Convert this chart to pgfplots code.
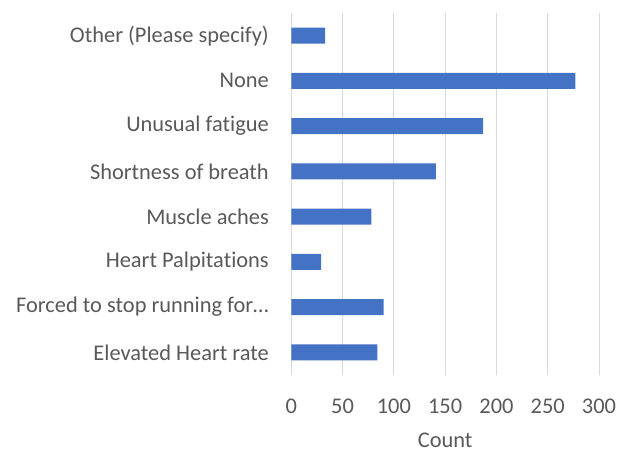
\documentclass[border=0pt]{standalone}
\usepackage{pgfplots}
\pgfplotsset{compat=1.18}
\usepackage{fontspec}
\setmainfont[Ligatures=NoCommon]{Carlito}
\definecolor{barblue}{HTML}{4472C4}
\definecolor{txt}{HTML}{595959}
\definecolor{gridc}{HTML}{D9D9D9}
\begin{document}
\begin{tikzpicture}
\begin{axis}[
  scale only axis,
  width=307.7bp, height=362bp,
  xbar, bar width=16bp,
  xmin=0, xmax=300,
  ymin=-0.5, ymax=7.5,
  xtick={0,50,100,150,200,250,300},
  ytick={0,1,2,3,4,5,6,7},
  yticklabels={{Elevated Heart rate},{Forced to stop running for\ldots},{Heart Palpitations},{Muscle aches},{Shortness of breath},{Unusual fatigue},{None},{Other (Please specify)}},
  axis line style={draw=none},
  xmajorgrids, grid style={gridc, line width=1bp},
  major tick length=0pt,
  tick label style={font=\fontsize{22.5}{26}\selectfont, text=txt},
  /pgf/number format/assume math mode=true,
  yticklabel style={xshift=-19bp},
  xticklabel style={yshift=-20bp},
  xlabel={Count},
  xlabel style={font=\fontsize{22.5}{26}\selectfont, text=txt, yshift=-15bp, inner sep=1bp},
]
\addplot[fill=barblue, draw=none] coordinates {
(84,0) (90,1) (29,2) (78,3) (141,4) (187,5) (277,6) (33,7)};
\end{axis}
\pgfresetboundingbox
\useasboundingbox (-291.3bp,-80bp) rectangle (326.7bp,375bp);
\end{tikzpicture}
\end{document}
